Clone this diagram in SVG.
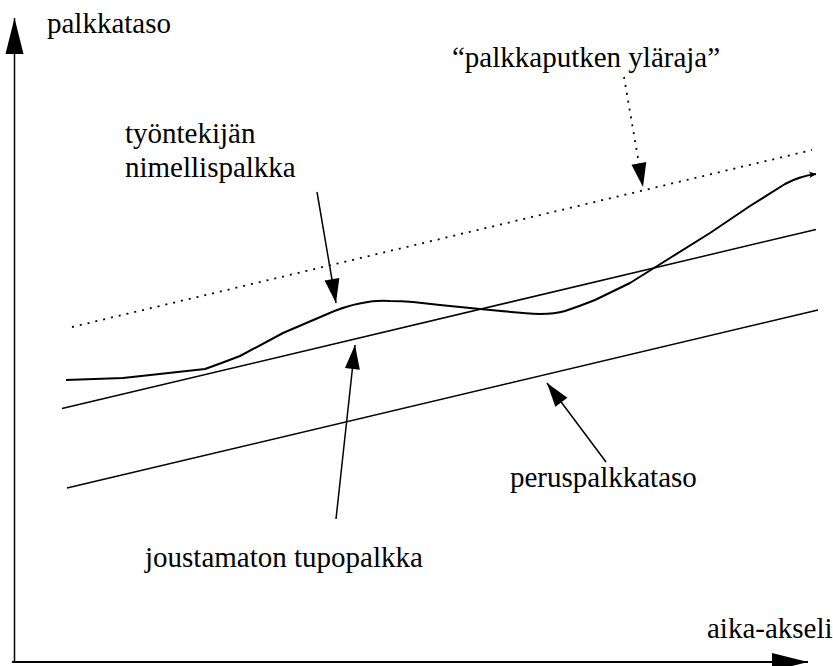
<svg xmlns="http://www.w3.org/2000/svg" width="833" height="666" viewBox="0 0 833 666">
<style>
.t{font-size:29px;fill:#000}
.ln{fill:none;stroke:#000;stroke-width:1.5}
.dot{fill:none;stroke:#000;stroke-width:1.8;stroke-dasharray:2 6}
</style>
<defs>
<marker id="ah" markerUnits="userSpaceOnUse" markerWidth="24" markerHeight="15" refX="24" refY="7.5" orient="auto" overflow="visible">
<path d="M0,0 L24,7.5 L0,15 Z" fill="#000"/>
</marker>
<marker id="ax" markerUnits="userSpaceOnUse" markerWidth="36" markerHeight="18" refX="36" refY="9" orient="auto" overflow="visible">
<path d="M0,0 L36,9 L0,18 Z" fill="#000"/>
</marker>
<marker id="sm" markerUnits="userSpaceOnUse" markerWidth="8" markerHeight="8" refX="7" refY="4" orient="auto" overflow="visible">
<path d="M0,0.5 L7,4 L0,7.5 L2,4 Z" fill="#000"/>
</marker>
</defs>
<rect width="833" height="666" fill="#fff"/>
<g id="axes">
<line class="ln" x1="14.5" y1="662" x2="14.5" y2="18" marker-end="url(#ax)"/>
<line class="ln" x1="12" y1="662" x2="808" y2="662" marker-end="url(#ax)" style="stroke-width:2"/>
</g>
<g id="lines">
<line id="upper" class="dot" x1="72" y1="327" x2="812" y2="150"/>
<line id="tupo" class="ln" x1="62" y1="408.5" x2="816" y2="229.5"/>
<line id="perus" class="ln" x1="67" y1="488" x2="818" y2="310"/>
<path id="nimelli" fill="none" stroke="#000" stroke-width="2" stroke-linejoin="round" marker-end="url(#sm)" d="M66,380 L123,378 L205,369 Q222,363 240,356 L283,333 L325,315 Q345,306 362,303 Q376,300 390,301 Q402,301 413,302 L440,305 L480,309 Q520,313 540,314 Q555,314 565,311 Q580,306 595,300 L630,283 L670,258 L710,233 L750,206 L785,184 Q800,176 816,174"/>
</g>
<g id="connectors">
<line class="dot" x1="624" y1="77" x2="643" y2="187" marker-end="url(#ah)"/>
<line class="ln" x1="317" y1="192" x2="336" y2="303" marker-end="url(#ah)"/>
<line class="ln" x1="336" y1="519" x2="355" y2="345" marker-end="url(#ah)"/>
<line class="ln" x1="606" y1="462" x2="547" y2="383" marker-end="url(#ah)"/>
</g>
<g id="labels" font-family="'Liberation Serif', 'DejaVu Serif', 'Times New Roman', serif">
<text class="t" x="47" y="33">palkkataso</text>
<text class="t" x="452" y="67">“palkkaputken yläraja”</text>
<text class="t" x="125" y="143">työntekijän</text>
<text class="t" x="125" y="177">nimellispalkka</text>
<text class="t" x="510" y="487">peruspalkkataso</text>
<text class="t" x="145" y="567">joustamaton tupopalkka</text>
<text class="t" x="707" y="638">aika-akseli</text>
</g>
</svg>
